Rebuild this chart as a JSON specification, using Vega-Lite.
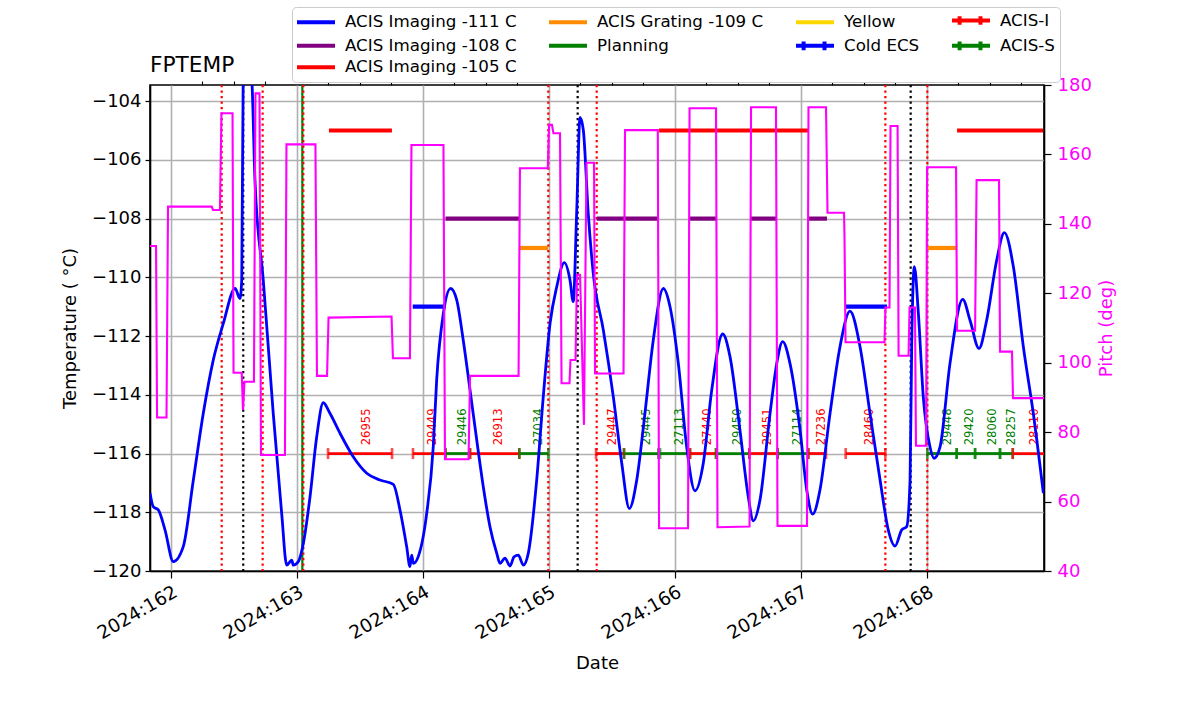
{
  "$schema": "https://vega.github.io/schema/vega-lite/v6.json",
  "width": 894,
  "height": 486,
  "autosize": {"type": "none"},
  "padding": {"left": 150, "top": 85, "right": 156, "bottom": 143},
  "config": {
    "font": "DejaVu Sans",
    "view": {"stroke": "black", "strokeWidth": 1.6}
  },
  "title": {"text": "FPTEMP", "anchor": "start", "frame": "group", "fontSize": 21.7, "fontWeight": "normal", "font": "DejaVu Sans", "color": "black", "offset": 12, "dy": 99, "baseline": "alphabetic"},
  "datasets": {
    "temp": [
      {"day":161.835,"temp":-117.34},{"day":161.861,"temp":-117.81},{"day":161.901,"temp":-117.92},{"day":161.954,"temp":-118.6},{"day":162.02,"temp":-119.68},{"day":162.099,"temp":-119.17},{"day":162.179,"temp":-116.9},{"day":162.258,"temp":-114.63},{"day":162.337,"temp":-112.82},{"day":162.417,"temp":-111.57},{"day":162.51,"temp":-110.38},{"day":162.549,"temp":-110.72},{"day":162.563,"temp":-110.09},{"day":162.575,"temp":-103.0},{"day":162.6,"temp":-102.3},{"day":162.642,"temp":-103.2},{"day":162.668,"temp":-106.69},{"day":162.734,"temp":-110.09},{"day":162.813,"temp":-114.63},{"day":162.88,"temp":-118.04},{"day":162.92,"temp":-119.8},{"day":162.96,"temp":-119.63},{"day":162.972,"temp":-119.8},{"day":163.012,"temp":-119.68},{"day":163.052,"temp":-119.06},{"day":163.105,"temp":-117.47},{"day":163.158,"temp":-115.43},{"day":163.21,"temp":-114.27},{"day":163.263,"temp":-114.63},{"day":163.343,"temp":-115.31},{"day":163.448,"temp":-116.11},{"day":163.555,"temp":-116.67},{"day":163.66,"temp":-116.9},{"day":163.766,"temp":-117.05},{"day":163.819,"temp":-117.92},{"day":163.872,"temp":-119.17},{"day":163.898,"temp":-119.85},{"day":163.912,"temp":-119.46},{"day":163.925,"temp":-119.74},{"day":163.964,"temp":-119.51},{"day":164.031,"temp":-118.04},{"day":164.083,"temp":-115.77},{"day":164.11,"temp":-113.5},{"day":164.163,"temp":-111.23},{"day":164.221,"temp":-110.38},{"day":164.269,"temp":-110.77},{"day":164.321,"temp":-112.14},{"day":164.375,"temp":-113.84},{"day":164.428,"temp":-115.54},{"day":164.48,"temp":-117.13},{"day":164.533,"temp":-118.49},{"day":164.587,"temp":-119.4},{"day":164.613,"temp":-119.74},{"day":164.652,"temp":-119.56},{"day":164.692,"temp":-119.83},{"day":164.724,"temp":-119.52},{"day":164.758,"temp":-119.46},{"day":164.798,"temp":-119.8},{"day":164.837,"temp":-119.4},{"day":164.904,"temp":-116.9},{"day":164.956,"temp":-114.07},{"day":165.01,"temp":-111.57},{"day":165.063,"temp":-110.32},{"day":165.123,"temp":-109.5},{"day":165.168,"temp":-110.09},{"day":165.194,"temp":-110.83},{"day":165.221,"temp":-107.82},{"day":165.248,"temp":-104.55},{"day":165.274,"temp":-104.99},{"day":165.313,"temp":-107.82},{"day":165.353,"temp":-109.87},{"day":165.433,"temp":-111.8},{"day":165.512,"temp":-114.07},{"day":165.579,"temp":-116.33},{"day":165.639,"temp":-117.87},{"day":165.698,"temp":-116.9},{"day":165.763,"temp":-114.63},{"day":165.829,"temp":-112.14},{"day":165.909,"temp":-110.38},{"day":165.962,"temp":-111.0},{"day":166.028,"temp":-112.93},{"day":166.094,"temp":-115.77},{"day":166.16,"temp":-117.27},{"day":166.226,"temp":-116.33},{"day":166.293,"temp":-113.84},{"day":166.38,"temp":-111.93},{"day":166.438,"temp":-112.7},{"day":166.517,"temp":-115.2},{"day":166.583,"temp":-117.47},{"day":166.623,"temp":-118.29},{"day":166.676,"temp":-117.58},{"day":166.756,"temp":-114.63},{"day":166.809,"temp":-112.93},{"day":166.856,"temp":-112.19},{"day":166.914,"temp":-112.93},{"day":166.994,"temp":-115.2},{"day":167.047,"temp":-117.24},{"day":167.094,"temp":-118.06},{"day":167.152,"temp":-117.24},{"day":167.232,"temp":-114.63},{"day":167.311,"temp":-112.36},{"day":167.39,"temp":-111.15},{"day":167.47,"temp":-112.36},{"day":167.549,"temp":-114.63},{"day":167.629,"temp":-116.9},{"day":167.694,"temp":-118.6},{"day":167.748,"temp":-119.15},{"day":167.801,"temp":-118.6},{"day":167.84,"temp":-118.49},{"day":167.867,"temp":-116.9},{"day":167.88,"temp":-112.36},{"day":167.901,"temp":-109.64},{"day":167.933,"temp":-111.23},{"day":167.972,"temp":-114.07},{"day":168.025,"temp":-115.77},{"day":168.057,"temp":-116.16},{"day":168.105,"temp":-115.77},{"day":168.184,"temp":-112.93},{"day":168.285,"temp":-110.75},{"day":168.343,"temp":-111.46},{"day":168.414,"temp":-112.42},{"day":168.475,"temp":-111.46},{"day":168.555,"temp":-109.41},{"day":168.615,"temp":-108.48},{"day":168.687,"temp":-109.64},{"day":168.766,"temp":-112.36},{"day":168.845,"temp":-114.63},{"day":168.925,"temp":-117.35}
    ],
    "pitch": [
      {"day":161.835,"pitch":133.6},{"day":161.883,"pitch":133.6},{"day":161.891,"pitch":84.2},{"day":161.966,"pitch":84.2},{"day":161.978,"pitch":144.95},{"day":162.325,"pitch":144.95},{"day":162.335,"pitch":144.0},{"day":162.39,"pitch":144.0},{"day":162.402,"pitch":171.85},{"day":162.49,"pitch":171.85},{"day":162.498,"pitch":97.1},{"day":162.563,"pitch":97.1},{"day":162.573,"pitch":86.4},{"day":162.585,"pitch":94.5},{"day":162.66,"pitch":94.5},{"day":162.672,"pitch":177.6},{"day":162.704,"pitch":177.6},{"day":162.716,"pitch":73.4},{"day":162.906,"pitch":73.4},{"day":162.918,"pitch":162.9},{"day":163.148,"pitch":162.9},{"day":163.16,"pitch":96.2},{"day":163.24,"pitch":96.2},{"day":163.252,"pitch":113.0},{"day":163.752,"pitch":113.3},{"day":163.763,"pitch":101.3},{"day":163.898,"pitch":101.3},{"day":163.91,"pitch":162.7},{"day":164.164,"pitch":162.7},{"day":164.176,"pitch":72.2},{"day":164.363,"pitch":72.2},{"day":164.375,"pitch":96.2},{"day":164.76,"pitch":96.2},{"day":164.771,"pitch":156.0},{"day":164.992,"pitch":156.0},{"day":165.002,"pitch":168.5},{"day":165.025,"pitch":168.5},{"day":165.037,"pitch":166.1},{"day":165.089,"pitch":166.1},{"day":165.101,"pitch":94.1},{"day":165.164,"pitch":94.1},{"day":165.172,"pitch":100.8},{"day":165.212,"pitch":100.8},{"day":165.224,"pitch":125.3},{"day":165.248,"pitch":125.3},{"day":165.279,"pitch":82.1},{"day":165.299,"pitch":157.6},{"day":165.359,"pitch":157.6},{"day":165.367,"pitch":96.9},{"day":165.593,"pitch":96.9},{"day":165.605,"pitch":167.0},{"day":165.865,"pitch":167.0},{"day":165.875,"pitch":52.3},{"day":166.105,"pitch":52.3},{"day":166.117,"pitch":173.3},{"day":166.327,"pitch":173.3},{"day":166.339,"pitch":52.6},{"day":166.593,"pitch":52.8},{"day":166.605,"pitch":173.6},{"day":166.803,"pitch":173.6},{"day":166.815,"pitch":53.0},{"day":167.049,"pitch":53.0},{"day":167.061,"pitch":173.6},{"day":167.2,"pitch":173.6},{"day":167.212,"pitch":143.2},{"day":167.343,"pitch":143.2},{"day":167.347,"pitch":135.4},{"day":167.355,"pitch":105.9},{"day":167.664,"pitch":105.9},{"day":167.672,"pitch":115.9},{"day":167.704,"pitch":115.9},{"day":167.712,"pitch":168.2},{"day":167.768,"pitch":168.2},{"day":167.776,"pitch":102.0},{"day":167.855,"pitch":102.0},{"day":167.863,"pitch":115.9},{"day":167.906,"pitch":115.9},{"day":167.914,"pitch":76.1},{"day":167.994,"pitch":76.1},{"day":168.002,"pitch":156.3},{"day":168.232,"pitch":156.3},{"day":168.24,"pitch":109.2},{"day":168.383,"pitch":109.2},{"day":168.395,"pitch":152.6},{"day":168.573,"pitch":152.6},{"day":168.581,"pitch":103.2},{"day":168.676,"pitch":103.2},{"day":168.684,"pitch":89.8},{"day":168.93,"pitch":89.8}
    ],
    "limits": [
      {"series":"ACIS Imaging -105 C","temp":-105,"start":163.255,"end":163.755},
      {"series":"ACIS Imaging -111 C","temp":-111,"start":163.92,"end":164.18},
      {"series":"ACIS Imaging -108 C","temp":-108,"start":164.18,"end":164.771},
      {"series":"ACIS Grating -109 C","temp":-109,"start":164.771,"end":164.996},
      {"series":"ACIS Imaging -108 C","temp":-108,"start":165.38,"end":165.869},
      {"series":"ACIS Imaging -105 C","temp":-105,"start":165.875,"end":167.057},
      {"series":"ACIS Imaging -108 C","temp":-108,"start":166.121,"end":166.335},
      {"series":"ACIS Imaging -108 C","temp":-108,"start":166.597,"end":166.811},
      {"series":"ACIS Imaging -108 C","temp":-108,"start":167.065,"end":167.208},
      {"series":"ACIS Imaging -111 C","temp":-111,"start":167.35,"end":167.684},
      {"series":"ACIS Grating -109 C","temp":-109,"start":168.01,"end":168.24},
      {"series":"ACIS Imaging -105 C","temp":-105,"start":168.24,"end":168.922}
    ],
    "obs": [
      {"series":"ACIS-I","obsid":"26955","start":163.248,"end":163.756,"mid":163.557},
      {"series":"ACIS-I","obsid":"29449","start":163.922,"end":164.18,"mid":164.081},
      {"series":"ACIS-S","obsid":"29446","start":164.18,"end":164.375,"mid":164.319},
      {"series":"ACIS-I","obsid":"26913","start":164.375,"end":164.766,"mid":164.605},
      {"series":"ACIS-S","obsid":"27034","start":164.766,"end":164.996,"mid":164.922},
      {"series":"ACIS-I","obsid":"29447","start":165.375,"end":165.597,"mid":165.51},
      {"series":"ACIS-S","obsid":"29445","start":165.597,"end":165.869,"mid":165.779},
      {"series":"ACIS-S","obsid":"27113","start":165.883,"end":166.121,"mid":166.041},
      {"series":"ACIS-I","obsid":"27440","start":166.121,"end":166.327,"mid":166.263},
      {"series":"ACIS-S","obsid":"29450","start":166.327,"end":166.591,"mid":166.502},
      {"series":"ACIS-I","obsid":"29451","start":166.591,"end":166.817,"mid":166.74},
      {"series":"ACIS-S","obsid":"27114","start":166.817,"end":167.06,"mid":166.978},
      {"series":"ACIS-I","obsid":"27236","start":167.06,"end":167.2,"mid":167.168},
      {"series":"ACIS-I","obsid":"28460","start":167.356,"end":167.671,"mid":167.549},
      {"series":"ACIS-S","obsid":"29448","start":168.004,"end":168.237,"mid":168.168},
      {"series":"ACIS-S","obsid":"29420","start":168.237,"end":168.383,"mid":168.343},
      {"series":"ACIS-S","obsid":"28060","start":168.383,"end":168.581,"mid":168.525},
      {"series":"ACIS-S","obsid":"28257","start":168.581,"end":168.682,"mid":168.676},
      {"series":"ACIS-I","obsid":"28110","start":168.682,"end":169.0,"mid":168.858}
    ],
    "events": [
      {"type":"green","day":163.044},
      {"type":"red","day":162.404},{"type":"red","day":162.729},{"type":"red","day":163.052},{"type":"red","day":164.996},{"type":"red","day":165.38},{"type":"red","day":167.671},{"type":"red","day":168.004},
      {"type":"black","day":162.575},{"type":"black","day":165.229},{"type":"black","day":167.872}
    ]
  },
  "layer": [
    {
      "layer": [
        {
          "data": {"name": "events"},
          "transform": [{"filter": "datum.type === 'green'"}],
          "mark": {"type": "rule", "color": "#008000", "strokeWidth": 2.2},
          "encoding": {
            "x": {
              "field": "day", "type": "quantitative",
              "scale": {"domain": [161.835, 168.93], "nice": false, "zero": false},
              "axis": {
                "values": [162, 163, 164, 165, 166, 167, 168],
                "labelExpr": "'2024:' + datum.value",
                "labelAngle": -30, "labelAlign": "right", "labelBaseline": "top",
                "labelFontSize": 18.5, "labelColor": "black", "labelPadding": 4, "labelFlush": false,
                "tickSize": 7, "tickColor": "black", "tickWidth": 1.2,
                "domainColor": "black", "domainWidth": 1.6,
                "grid": true, "gridColor": "#b0b0b0", "gridWidth": 1.6,
                "title": "Date", "titleFontSize": 18, "titleFontWeight": "normal", "titleColor": "black", "titlePadding": 12
              }
            }
          }
        },
        {
          "data": {"name": "events"},
          "transform": [{"filter": "datum.type === 'red'"}],
          "mark": {"type": "rule", "color": "#ff0000", "strokeWidth": 2.2, "strokeDash": [2.2, 3.3]},
          "encoding": {"x": {"field": "day", "type": "quantitative"}}
        },
        {
          "data": {"name": "events"},
          "transform": [{"filter": "datum.type === 'black'"}],
          "mark": {"type": "rule", "color": "#000000", "strokeWidth": 2.2, "strokeDash": [2.2, 3.3]},
          "encoding": {"x": {"field": "day", "type": "quantitative"}}
        },
        {
          "data": {"name": "limits"},
          "mark": {"type": "rule", "strokeWidth": 4.2, "clip": true},
          "encoding": {
            "x": {"field": "start", "type": "quantitative"},
            "x2": {"field": "end"},
            "y": {
              "field": "temp", "type": "quantitative",
              "scale": {"domain": [-120, -103.45], "nice": false, "zero": false},
              "axis": {
                "values": [-120, -118, -116, -114, -112, -110, -108, -106, -104],
                "labelFontSize": 18, "labelColor": "black", "labelPadding": 4, "labelFlush": false,
                "tickSize": 5, "tickColor": "black", "tickWidth": 1.2,
                "domainColor": "black", "domainWidth": 1.6,
                "grid": true, "gridColor": "#b0b0b0", "gridWidth": 1.6,
                "title": "Temperature ( °C)", "titleFontSize": 18, "titleFontWeight": "normal", "titleColor": "black", "titlePadding": 12
              }
            },
            "color": {
              "field": "series", "type": "nominal",
              "scale": {
                "domain": ["ACIS Imaging -111 C", "ACIS Grating -109 C", "Yellow", "ACIS-I", "ACIS Imaging -108 C", "Planning", "Cold ECS", "ACIS-S", "ACIS Imaging -105 C"],
                "range": ["#0000ff", "#ff8c00", "#ffd700", "#ff0000", "#800080", "#008000", "#0000ff", "#008000", "#ff0000"]
              },
              "legend": {
                "orient": "none", "legendX": 142, "legendY": -78, "columns": 4, "direction": "horizontal", "title": null,
                "labelFontSize": 16.7, "labelColor": "black", "labelLimit": 400,
                "symbolSize": 100, "symbolStrokeWidth": 4, "symbolType": "stroke",
                "labelOffset": 31.3, "rowPadding": 0.5, "columnPadding": 23, "padding": 5,
                "strokeColor": "#cccccc", "fillColor": "white", "cornerRadius": 4,
                "encoding": {
                  "symbols": {
                    "shape": {
                      "condition": {"test": "indexof(['Cold ECS','ACIS-I','ACIS-S'], datum.value) >= 0", "value": "M-1.67,0H5.93M-0.15,-0.86V0.86M4.03,-0.86V0.86"},
                      "value": "M-1.67,0H5.93"
                    }
                  }
                }
              }
            }
          }
        },
        {
          "data": {"name": "obs"},
          "mark": {"type": "rule", "strokeWidth": 2.8, "clip": true},
          "encoding": {
            "x": {"field": "start", "type": "quantitative"},
            "x2": {"field": "end"},
            "y": {"datum": -116},
            "color": {
              "field": "series", "type": "nominal", "legend": null,
              "scale": {
                "domain": ["ACIS Imaging -111 C", "ACIS Grating -109 C", "Yellow", "ACIS-I", "ACIS Imaging -108 C", "Planning", "Cold ECS", "ACIS-S", "ACIS Imaging -105 C"],
                "range": ["#0000ff", "#ff8c00", "#ffd700", "#ff0000", "#800080", "#008000", "#0000ff", "#008000", "#ff0000"]
              }
            }
          }
        },
        {
          "data": {"name": "obs"},
          "transform": [{"fold": ["start", "end"], "as": ["edge", "pos"]}],
          "mark": {"type": "tick", "orient": "vertical", "size": 11, "thickness": 2.6, "clip": true},
          "encoding": {
            "x": {"field": "pos", "type": "quantitative"},
            "y": {"datum": -116},
            "color": {
              "field": "series", "type": "nominal", "legend": null,
              "scale": {
                "domain": ["ACIS Imaging -111 C", "ACIS Grating -109 C", "Yellow", "ACIS-I", "ACIS Imaging -108 C", "Planning", "Cold ECS", "ACIS-S", "ACIS Imaging -105 C"],
                "range": ["#0000ff", "#ff8c00", "#ffd700", "#ff0000", "#800080", "#008000", "#0000ff", "#008000", "#ff0000"]
              }
            }
          }
        },
        {
          "data": {"name": "obs"},
          "mark": {"type": "text", "angle": 270, "align": "left", "baseline": "middle", "fontSize": 11.6, "clip": true},
          "encoding": {
            "x": {"field": "mid", "type": "quantitative"},
            "y": {"datum": -115.72},
            "text": {"field": "obsid"},
            "color": {
              "field": "series", "type": "nominal", "legend": null,
              "scale": {
                "domain": ["ACIS Imaging -111 C", "ACIS Grating -109 C", "Yellow", "ACIS-I", "ACIS Imaging -108 C", "Planning", "Cold ECS", "ACIS-S", "ACIS Imaging -105 C"],
                "range": ["#0000ff", "#ff8c00", "#ffd700", "#ff0000", "#800080", "#008000", "#0000ff", "#008000", "#ff0000"]
              }
            }
          }
        },
        {
          "data": {"name": "temp"},
          "mark": {"type": "line", "color": "#0000ff", "strokeWidth": 2.8, "interpolate": "monotone", "clip": true},
          "encoding": {
            "x": {"field": "day", "type": "quantitative"},
            "y": {"field": "temp", "type": "quantitative"}
          }
        }
      ]
    },
    {
      "data": {"name": "pitch"},
      "mark": {"type": "line", "color": "#ff00ff", "strokeWidth": 2.1, "clip": true},
      "encoding": {
        "x": {
          "field": "day", "type": "quantitative",
          "axis": {
            "values": [162.25, 162.5, 162.75, 163.25, 163.5, 163.75, 164.25, 164.5, 164.75, 165.25, 165.5, 165.75, 166.25, 166.5, 166.75, 167.25, 167.5, 167.75, 168.25, 168.5, 168.75],
            "labels": false, "tickSize": 4, "tickColor": "black", "tickWidth": 1.1,
            "domain": false, "grid": false, "title": null
          }
        },
        "y": {
          "field": "pitch", "type": "quantitative",
          "scale": {"domain": [40, 180], "nice": false, "zero": false},
          "axis": {
            "orient": "right",
            "values": [40, 60, 80, 100, 120, 140, 160, 180],
            "labelColor": "#ff00ff", "labelFontSize": 18, "labelPadding": 6, "labelFlush": false,
            "tickSize": 7, "tickColor": "black", "tickWidth": 1.2,
            "domainColor": "black", "domainWidth": 1.6, "grid": false,
            "title": "Pitch (deg)", "titleColor": "#ff00ff", "titleFontSize": 18, "titleFontWeight": "normal", "titleAngle": 270, "titleBaseline": "top", "titlePadding": 6
          }
        }
      }
    }
  ],
  "resolve": {"scale": {"y": "independent"}, "axis": {"x": "independent"}}
}
